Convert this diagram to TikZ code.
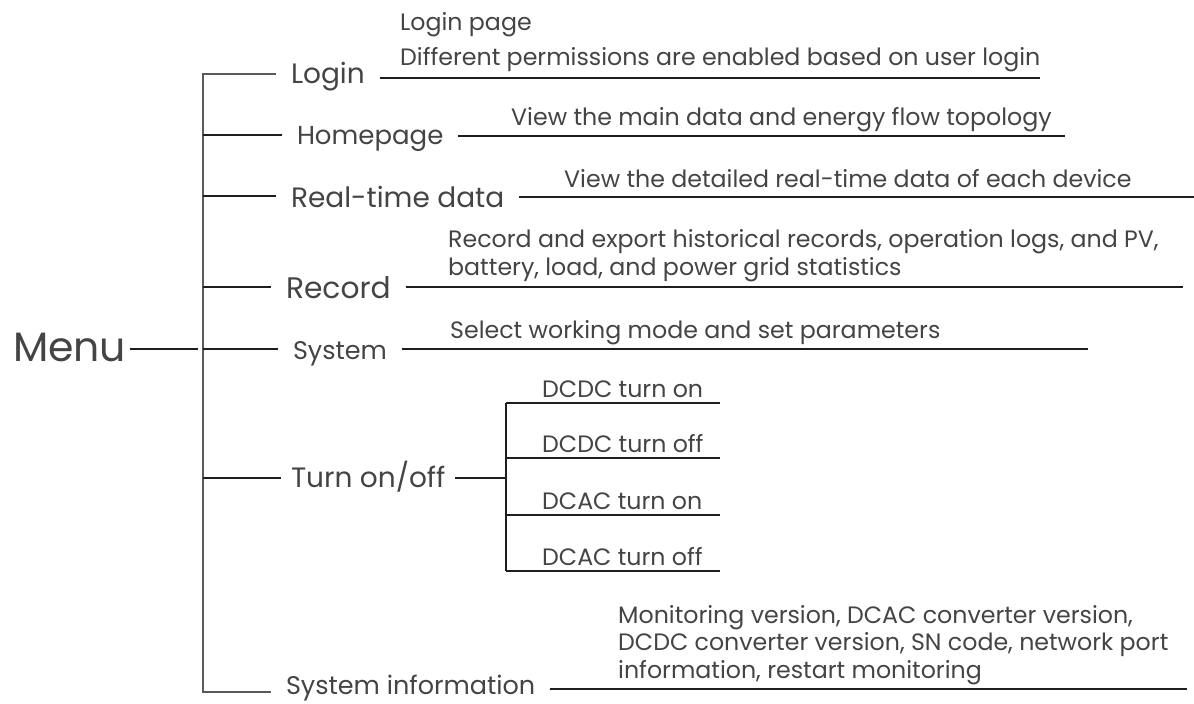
\documentclass[tikz,border=0pt]{standalone}
\usepackage{fontspec}
\setmainfont{Poppins}
\usepackage{tikz}
\usetikzlibrary{calc}
\definecolor{textgray}{HTML}{444444}
\definecolor{trunkgray}{HTML}{5A5A5A}
\definecolor{linedark}{HTML}{1E1E1E}
\tikzset{
  menutext/.style={
    font=\fontsize{41}{48}\selectfont,
    text=textgray,
    inner sep=0pt,
    outer xsep=4pt,
    anchor=base west
  },
  itemtext/.style={
    font=\fontsize{#1}{34}\selectfont,
    text=textgray,
    inner sep=0pt,
    outer xsep=15pt,
    anchor=base west
  },
  itemtext/.default=28,
  desctext/.style={
    font=\fontsize{23.7}{27.3}\selectfont,
    text=textgray,
    inner sep=0pt,
    align=left,
    anchor=base west
  },
  subtext/.style={
    desctext
  },
  trunk/.style={
    draw=trunkgray,
    line width=1.6pt
  },
  branch/.style={
    draw=linedark,
    line width=2pt
  },
  descline/.style={
    draw=linedark,
    line width=2.4pt
  }
}

\begin{document}
\begin{tikzpicture}[x=1pt,y=-1pt]
  % Fix the page to the reference size
  \useasboundingbox (0,0) rectangle (1194,704);

  % Root
  \node[menutext] (menu) at (9,361) {Menu};
  \coordinate (t-menu) at (198,349);
  \draw[branch] (menu.east |- t-menu) -- (t-menu);

  % Trunk junctions
  \coordinate (t-login) at (203,74);
  \coordinate (t-homepage) at (203,135);
  \coordinate (t-realtime) at (203,196);
  \coordinate (t-record) at (203,287);
  \coordinate (t-system) at (203,349);
  \coordinate (t-turnonoff) at (203,478);
  \coordinate (t-sysinfo) at (203,692);

  % Menu items
  \node[itemtext] (login) at (276,83) {Login};
  \node[itemtext=26] (homepage) at (282,144) {Homepage};
  \node[itemtext] (realtime) at (276,207) {Real-time data};
  \node[itemtext=29.7] (record) at (271,298) {Record};
  \node[itemtext=25.5] (system) at (278,359) {System};
  \node[itemtext, outer xsep=10pt] (turnonoff) at (281,487) {Turn on/off};
  \node[itemtext=25.5] (sysinfo) at (271,694) {System information};

  \draw[trunk] (login.west |- t-login) -- (t-login) -- (t-sysinfo) -- (sysinfo.west |- t-sysinfo);
  \foreach \item in {homepage,realtime,record,system,turnonoff}
    \draw[branch] (t-\item) -- (\item.west |- t-\item);

  % Description lines
  \coordinate (login-end) at (1040,78);
  \coordinate (homepage-end) at (1065,136);
  \coordinate (realtime-end) at (1194,197);
  \coordinate (record-end) at (1183,287);
  \coordinate (system-end) at (1088,349);
  \coordinate (sysinfo-end) at (1187,689);
  \foreach \item in {login,homepage,realtime,record,system,sysinfo}
    \draw[descline] (\item.east |- \item-end) -- (\item-end);

  % Descriptions
  \node[desctext] (login-desc) at (400,65) {Login page\\[7.7pt]Different permissions are enabled based on user login};
  \node[desctext] (homepage-desc) at (511,125) {View the main data and energy flow topology};
  \node[desctext] (realtime-desc) at (564,187) {View the detailed real-time data of each device};
  \node[desctext] (record-desc) at (448,275) {Record and export historical records, operation logs, and PV,\\battery, load, and power grid statistics};
  \node[desctext] (system-desc) at (450,338) {Select working mode and set parameters};
  \node[desctext] (sysinfo-desc) at (618,678) {Monitoring version, DCAC converter version,\\DCDC converter version, SN code, network port\\information, restart monitoring};

  % Turn on/off sub menu
  \coordinate (s-mid) at (506,478);
  \coordinate (s-top) at (506,403);
  \coordinate (s-bot) at (506,571);
  \draw[branch] (turnonoff.east |- s-mid) -- (s-mid);
  \draw[branch] (s-top) -- (s-bot);
  \foreach \sub/\y/\txt in {dcdcon/403/DCDC turn on, dcdcoff/458/DCDC turn off,
                            dcacon/515/DCAC turn on, dcacoff/571/DCAC turn off} {
    \coordinate (\sub-l) at (506,\y);
    \coordinate (\sub-r) at (720,\y);
    \draw[branch] (\sub-l) -- (\sub-r);
    \node[subtext] (\sub) at ($(\sub-l)+(36,-6)$) {\txt};
  }
\end{tikzpicture}
\end{document}
